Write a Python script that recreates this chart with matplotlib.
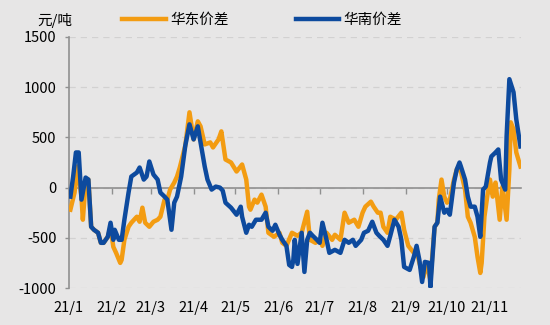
import matplotlib
matplotlib.use("Agg")
import matplotlib.pyplot as plt
import matplotlib.transforms as mtransforms
import pandas as pd

plt.rcParams['font.family'] = ['Noto Sans CJK SC', 'DejaVu Sans']

unit_label = "元/吨"
east_name = "华东价差"
south_name = "华南价差"

east_dates = ["2021-01-02","2021-01-05","2021-01-07","2021-01-10","2021-01-11","2021-01-13","2021-01-15",
    "2021-01-17","2021-01-19","2021-01-22","2021-01-24","2021-01-26","2021-01-29","2021-01-31",
    "2021-02-02","2021-02-04","2021-02-07","2021-02-08","2021-02-10","2021-02-13","2021-02-15",
    "2021-02-19","2021-02-21","2021-02-23","2021-02-25","2021-02-28","2021-03-03","2021-03-06",
    "2021-03-08","2021-03-11","2021-03-13","2021-03-15","2021-03-18","2021-03-20","2021-03-22",
    "2021-03-24","2021-03-26","2021-03-29","2021-04-01","2021-04-04","2021-04-06","2021-04-09",
    "2021-04-13","2021-04-15","2021-04-19","2021-04-21","2021-04-24","2021-04-28","2021-05-02",
    "2021-05-06","2021-05-09","2021-05-11","2021-05-12","2021-05-15","2021-05-17","2021-05-20",
    "2021-05-23","2021-05-25","2021-05-29","2021-06-02","2021-06-04","2021-06-07","2021-06-11",
    "2021-06-15","2021-06-18","2021-06-22","2021-06-24","2021-06-28","2021-07-01","2021-07-03",
    "2021-07-06","2021-07-10","2021-07-12","2021-07-16","2021-07-19","2021-07-22","2021-07-26",
    "2021-07-29","2021-08-01","2021-08-03","2021-08-07","2021-08-09","2021-08-12","2021-08-14",
    "2021-08-16","2021-08-19","2021-08-21","2021-08-25","2021-08-29","2021-08-31","2021-09-03",
    "2021-09-07","2021-09-09","2021-09-11","2021-09-14","2021-09-16","2021-09-19","2021-09-22",
    "2021-09-24","2021-09-25","2021-09-27","2021-09-29","2021-10-01","2021-10-03","2021-10-06",
    "2021-10-08","2021-10-10","2021-10-14","2021-10-16","2021-10-18","2021-10-21","2021-10-23",
    "2021-10-25","2021-10-26","2021-10-28","2021-10-30","2021-11-01","2021-11-03","2021-11-05",
    "2021-11-08","2021-11-10","2021-11-13","2021-11-15","2021-11-16","2021-11-18","2021-11-20",
    "2021-11-23"]
east_values = [-220,-50,210,-90,-320,50,80,
    -390,-420,-450,-550,-550,-490,-400,
    -590,-650,-750,-720,-520,-390,-350,
    -290,-340,-200,-350,-390,-340,-320,
    -290,-120,-120,-20,50,110,200,
    310,420,750,480,660,610,430,
    450,400,480,560,280,250,160,
    230,80,-190,-220,-120,-150,-70,
    -190,-450,-490,-450,-550,-580,-450,
    -480,-450,-240,-520,-550,-520,-580,
    -450,-520,-470,-520,-250,-350,-320,
    -390,-250,-190,-140,-190,-250,-250,
    -390,-450,-290,-320,-250,-420,-580,
    -650,-620,-750,-890,-750,-920,-390,
    -350,-120,80,-90,-150,-120,80,
    180,220,-20,-290,-350,-490,-690,
    -850,-750,-290,-90,80,-90,50,
    -320,10,-320,180,650,580,350,
    210]

south_dates = ["2021-01-02","2021-01-04","2021-01-06","2021-01-08","2021-01-10","2021-01-13","2021-01-15",
    "2021-01-17","2021-01-19","2021-01-22","2021-01-24","2021-01-26","2021-01-29","2021-01-31",
    "2021-02-02","2021-02-03","2021-02-06","2021-02-08","2021-02-10","2021-02-13","2021-02-15",
    "2021-02-19","2021-02-21","2021-02-24","2021-02-26","2021-02-28","2021-03-03","2021-03-06",
    "2021-03-08","2021-03-11","2021-03-13","2021-03-14","2021-03-16","2021-03-18","2021-03-20",
    "2021-03-23","2021-03-26","2021-03-29","2021-04-01","2021-04-04","2021-04-06","2021-04-09",
    "2021-04-11","2021-04-14","2021-04-17","2021-04-20","2021-04-22","2021-04-24","2021-04-28",
    "2021-05-02","2021-05-05","2021-05-06","2021-05-09","2021-05-11","2021-05-13","2021-05-16",
    "2021-05-20","2021-05-23","2021-05-25","2021-05-28","2021-05-30","2021-06-02","2021-06-04",
    "2021-06-07","2021-06-09","2021-06-11","2021-06-12","2021-06-13","2021-06-15","2021-06-18",
    "2021-06-20","2021-06-22","2021-06-24","2021-06-26","2021-06-29","2021-07-01","2021-07-03",
    "2021-07-06","2021-07-08","2021-07-12","2021-07-16","2021-07-19","2021-07-22","2021-07-25",
    "2021-07-27","2021-07-31","2021-08-02","2021-08-05","2021-08-08","2021-08-11","2021-08-13",
    "2021-08-16","2021-08-19","2021-08-21","2021-08-24","2021-08-27","2021-08-29","2021-08-31",
    "2021-09-04","2021-09-07","2021-09-09","2021-09-11","2021-09-13","2021-09-15","2021-09-18",
    "2021-09-19","2021-09-22","2021-09-24","2021-09-26","2021-09-29","2021-10-01","2021-10-03",
    "2021-10-06","2021-10-08","2021-10-10","2021-10-11","2021-10-14","2021-10-16","2021-10-18",
    "2021-10-21","2021-10-23","2021-10-25","2021-10-27","2021-10-29","2021-11-01","2021-11-02",
    "2021-11-05","2021-11-07","2021-11-09","2021-11-12","2021-11-13","2021-11-15","2021-11-18",
    "2021-11-20","2021-11-23"]
south_values = [-90,110,350,350,-120,100,80,
    -390,-420,-450,-550,-550,-490,-350,
    -520,-420,-520,-520,-320,-50,110,
    150,200,80,110,260,130,80,
    -50,-90,-120,-220,-420,-150,-90,
    110,420,630,480,610,450,210,
    80,-20,10,0,-30,-150,-200,
    -270,-190,-290,-450,-370,-390,-320,
    -320,-250,-390,-430,-370,-470,-520,
    -580,-770,-790,-720,-520,-760,-450,
    -840,-520,-450,-480,-520,-550,-350,
    -520,-650,-620,-650,-520,-550,-520,
    -580,-520,-450,-430,-340,-450,-480,
    -520,-580,-480,-320,-390,-520,-790,
    -820,-690,-580,-720,-940,-740,-750,
    -990,-390,-350,-90,-250,-220,-270,
    50,180,250,210,80,-90,-190,
    -190,-290,-490,-20,10,250,310,
    350,380,80,-20,510,1080,950,
    680,410]

month_ticks = ["2021-01-01","2021-02-01","2021-03-01","2021-04-01","2021-05-01","2021-06-01",
               "2021-07-01","2021-08-01","2021-09-01","2021-10-01","2021-11-01"]
month_labels = ["21/1","21/2","21/3","21/4","21/5","21/6","21/7","21/8","21/9","21/10","21/11"]
y_ticks = [-1000, -500, 0, 500, 1000, 1500]

bg = "#E7E6E6"
orange = "#F39C12"
blue = "#0D4A9E"

fig = plt.figure(figsize=(5.5, 3.25), dpi=100, facecolor=bg)
ax = fig.add_axes([69/550, 1-288/325, (521-69)/550, (288-37)/325])
ax.set_facecolor(bg)

ax.plot(pd.to_datetime(east_dates), east_values, color=orange, lw=3.2, solid_joinstyle='round', label=east_name, zorder=3)
ax.plot(pd.to_datetime(south_dates), south_values, color=blue, lw=3.2, solid_joinstyle='round', label=south_name, zorder=4)

ax.set_ylim(-1000, 1500)
ax.set_yticks(y_ticks)
ax.set_yticklabels([str(v) for v in y_ticks], fontsize=10.5)
x0 = pd.Timestamp("2021-01-01")
ax.set_xlim(x0, x0 + pd.Timedelta(days=326.4))
ticks = pd.to_datetime(month_ticks)
ax.set_xticks(ticks)
ax.set_xticklabels([])
ax.tick_params(axis='x', direction='out', length=4, color='#909090', width=1)
ax.tick_params(axis='y', direction='out', length=3, color='#909090', width=1, pad=6)

for s in ['top', 'right']:
    ax.spines[s].set_visible(False)
ax.spines['left'].set_color('#909090')
ax.spines['left'].set_linewidth(1.2)
ax.spines['bottom'].set_position(('data', 0))
ax.spines['bottom'].set_color('#909090')
ax.spines['bottom'].set_linewidth(1.2)

ax.yaxis.grid(True, linestyle=(0, (5, 4)), color='#D2D1D1', lw=0.9)
ax.set_axisbelow(True)

trans = mtransforms.blended_transform_factory(ax.transData, ax.transAxes)
for t, lab in zip(ticks, month_labels):
    ax.text(t, -0.08, lab, transform=trans, ha='center', va='center', fontsize=10.5)

fig.text(55/550, 1-20/325, unit_label, ha='center', va='center', fontsize=10.5)
fig.legend(loc='center left', bbox_to_anchor=(122/550, 1-20/325), ncol=2, frameon=False,
           fontsize=10.5, handlelength=3.0, handletextpad=0.3, columnspacing=4.6,
           borderpad=0, borderaxespad=0)

fig.savefig("out.png", dpi=100, facecolor=bg)
